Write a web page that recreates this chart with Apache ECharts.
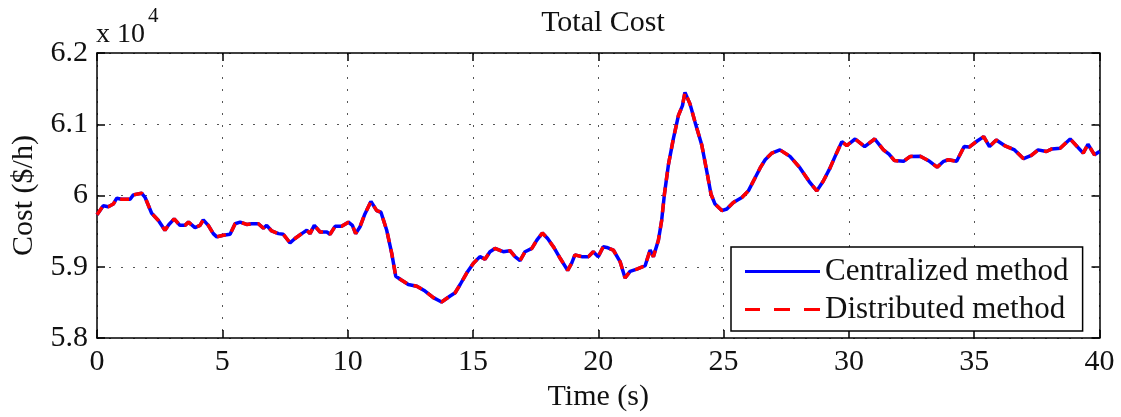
<!DOCTYPE html>
<html>
<head>
<meta charset="utf-8">
<script src="https://cdn.jsdelivr.net/npm/echarts@6/dist/echarts.min.js"></script>
<style>
  html, body { margin: 0; padding: 0; background: #fff; }
  #chart { width: 1121px; height: 417px; }
</style>
</head>
<body>
<div id="chart"></div>
<script>
// Sample times (s)
const timeS = [
  0.00, 0.25, 0.45, 0.65, 0.79, 0.98, 1.32, 1.45, 1.78, 1.92,
  2.18, 2.45, 2.71, 2.87, 3.08, 3.31, 3.51, 3.65, 3.91, 4.11,
  4.24, 4.44, 4.64, 4.78, 5.04, 5.31, 5.51, 5.71, 5.97, 6.17,
  6.44, 6.64, 6.77, 6.97, 7.24, 7.43, 7.70, 7.90, 8.17, 8.37,
  8.50, 8.67, 8.90, 9.17, 9.30, 9.50, 9.76, 10.03, 10.19, 10.32,
  10.49, 10.69, 10.93, 11.16, 11.33, 11.56, 11.76, 11.92, 12.16, 12.42,
  12.76, 13.09, 13.42, 13.75, 14.09, 14.29, 14.49, 14.75, 15.02, 15.28,
  15.48, 15.68, 15.88, 16.21, 16.48, 16.68, 16.88, 17.08, 17.35, 17.55,
  17.77, 17.98, 18.21, 18.48, 18.78, 18.94, 19.07, 19.34, 19.61, 19.80,
  20.00, 20.20, 20.34, 20.60, 20.87, 21.07, 21.27, 21.54, 21.87, 22.07,
  22.20, 22.40, 22.53, 22.64, 22.80, 23.00, 23.20, 23.36, 23.46, 23.66,
  23.86, 24.13, 24.33, 24.50, 24.66, 24.93, 25.13, 25.39, 25.73, 25.99,
  26.26, 26.46, 26.66, 26.93, 27.25, 27.65, 28.05, 28.45, 28.72, 28.98,
  29.25, 29.45, 29.72, 29.92, 30.03, 30.25, 30.63, 31.03, 31.38, 31.60,
  31.82, 32.18, 32.45, 32.85, 33.18, 33.52, 33.78, 33.97, 34.30, 34.60,
  34.80, 35.12, 35.38, 35.61, 35.88, 36.21, 36.61, 36.97, 37.28, 37.55,
  37.88, 38.10, 38.43, 38.83, 39.35, 39.54, 39.80, 40.00
];

// Total cost, centralized solution ($/h)
const centralizedCost = [
  59730, 59857, 59843, 59880, 59962, 59948, 59948, 60009, 60032, 59972,
  59751, 59650, 59512, 59594, 59672, 59581, 59581, 59626, 59548, 59581,
  59658, 59581, 59465, 59419, 59442, 59456, 59603, 59626, 59594, 59603,
  59603, 59540, 59580, 59502, 59465, 59456, 59336, 59396, 59465, 59512,
  59465, 59581, 59488, 59488, 59456, 59567, 59567, 59626, 59581, 59465,
  59557, 59741, 59917, 59788, 59765, 59512, 59188, 58866, 58810, 58751,
  58727, 58658, 58566, 58506, 58589, 58635, 58751, 58912, 59050, 59142,
  59105, 59211, 59257, 59211, 59225, 59142, 59087, 59211, 59257, 59373,
  59474, 59396, 59281, 59119, 58949, 59050, 59166, 59142, 59142, 59211,
  59142, 59281, 59271, 59235, 59073, 58843, 58935, 58967, 59014, 59235,
  59142, 59373, 59650, 60018, 60433, 60802, 61124, 61262, 61448, 61286,
  61033, 60709, 60341, 60018, 59880, 59788, 59811, 59903, 59972, 60065,
  60249, 60387, 60502, 60595, 60640, 60549, 60387, 60180, 60065, 60203,
  60387, 60549, 60756, 60701, 60733, 60793, 60687, 60793, 60640, 60580,
  60490, 60480, 60549, 60550, 60488, 60397, 60480, 60502, 60480, 60687,
  60680, 60765, 60826, 60687, 60779, 60701, 60640, 60516, 60562, 60640,
  60618, 60654, 60664, 60793, 60595, 60719, 60571, 60618
];

// Total cost, distributed solution ($/h) - tracks the centralized one
const distributedCost = [
  59730, 59857, 59843, 59880, 59962, 59948, 59948, 60009, 60032, 59972,
  59751, 59650, 59512, 59594, 59672, 59581, 59581, 59626, 59548, 59581,
  59658, 59581, 59465, 59419, 59442, 59456, 59603, 59626, 59594, 59603,
  59603, 59540, 59580, 59502, 59465, 59456, 59336, 59396, 59465, 59512,
  59465, 59581, 59488, 59488, 59456, 59567, 59567, 59626, 59581, 59465,
  59557, 59741, 59917, 59788, 59765, 59512, 59188, 58866, 58810, 58751,
  58727, 58658, 58566, 58506, 58589, 58635, 58751, 58912, 59050, 59142,
  59105, 59211, 59257, 59211, 59225, 59142, 59087, 59211, 59257, 59373,
  59474, 59396, 59281, 59119, 58949, 59050, 59166, 59142, 59142, 59211,
  59142, 59281, 59271, 59235, 59073, 58843, 58935, 58967, 59014, 59235,
  59142, 59373, 59650, 60018, 60433, 60802, 61124, 61262, 61448, 61286,
  61033, 60709, 60341, 60018, 59880, 59788, 59811, 59903, 59972, 60065,
  60249, 60387, 60502, 60595, 60640, 60549, 60387, 60180, 60065, 60203,
  60387, 60549, 60756, 60701, 60733, 60793, 60687, 60793, 60640, 60580,
  60490, 60480, 60549, 60550, 60488, 60397, 60480, 60502, 60480, 60687,
  60680, 60765, 60826, 60687, 60779, 60701, 60640, 60516, 60562, 60640,
  60618, 60654, 60664, 60793, 60595, 60719, 60571, 60618
];

const seriesNames = ['Centralized method', 'Distributed method'];
const xTicks = { min: 0, max: 40, step: 5 };
const yTicks = { min: 58000, max: 62000, step: 1000 };

const FONT = "'Liberation Serif', 'Times New Roman', serif";
const pairs = (ys) => timeS.map((t, i) => [t, ys[i]]);

const gridLine = { show: true, lineStyle: { color: '#555', width: 1, type: [2, 10] } };
const frameLine = { show: true, onZero: false, lineStyle: { color: '#000', width: 1.5 } };
const inTick = { show: true, inside: true, length: 8, lineStyle: { color: '#000', width: 1.5 } };

// legend glyphs: a solid bar and a three-dash bar
const solidIcon = 'path://M0,0h75v3h-75z';
const dashIcon = 'path://M0,0h15v3h-15z M29,0h16v3h-16z M59,0h16v3h-16z';

const chart = echarts.init(document.getElementById('chart'), null, { renderer: 'canvas' });
chart.setOption({
  animation: false,
  backgroundColor: '#fff',
  title: {
    text: 'Total Cost',
    left: 598, textAlign: 'center', top: 3,
    textStyle: { fontFamily: FONT, fontSize: 30, fontWeight: 'normal', color: '#111' }
  },
  grid: { left: 97, right: 21.5, top: 53, bottom: 74.5 },
  graphic: [
    { type: 'text', left: 96, top: 21, style: { text: 'x 10', font: '28px ' + FONT, fill: '#111' } },
    { type: 'text', left: 148, top: 6, style: { text: '4', font: '21px ' + FONT, fill: '#111' } }
  ],
  legend: {
    orient: 'vertical',
    left: 731, top: 247,
    backgroundColor: '#fff',
    borderColor: '#000', borderWidth: 1.5,
    padding: [9, 14, 6, 14],
    itemWidth: 75, itemHeight: 3, itemGap: 7,
    textStyle: { fontFamily: FONT, fontSize: 31, color: '#111' },
    data: [
      { name: seriesNames[0], icon: solidIcon },
      { name: seriesNames[1], icon: dashIcon }
    ]
  },
  xAxis: [
    {
      type: 'value', min: xTicks.min, max: xTicks.max, interval: xTicks.step,
      name: 'Time (s)', nameLocation: 'middle', nameGap: 44,
      nameTextStyle: { fontFamily: FONT, fontSize: 30, color: '#111' },
      axisLine: frameLine, axisTick: inTick,
      axisLabel: { fontFamily: FONT, fontSize: 30, color: '#111', margin: 9 },
      splitLine: gridLine
    },
    {
      type: 'value', position: 'top', min: xTicks.min, max: xTicks.max, interval: xTicks.step,
      axisLine: frameLine, axisTick: inTick, axisLabel: { show: false }, splitLine: { show: false }
    }
  ],
  yAxis: [
    {
      type: 'value', min: yTicks.min, max: yTicks.max, interval: yTicks.step,
      name: 'Cost ($/h)', nameLocation: 'middle', nameGap: 58,
      nameTextStyle: { fontFamily: FONT, fontSize: 30, color: '#111' },
      axisLine: frameLine, axisTick: inTick,
      axisLabel: {
        fontFamily: FONT, fontSize: 30, color: '#111', margin: 9,
        formatter: (v) => String(parseFloat((v / 10000).toFixed(2)))
      },
      splitLine: gridLine
    },
    {
      type: 'value', position: 'right', min: yTicks.min, max: yTicks.max, interval: yTicks.step,
      axisLine: frameLine, axisTick: inTick, axisLabel: { show: false }, splitLine: { show: false }
    }
  ],
  series: [
    {
      name: seriesNames[0], type: 'line', data: pairs(centralizedCost),
      symbol: 'none', color: '#0000ff',
      lineStyle: { color: '#0000ff', width: 3.5 }, z: 3
    },
    {
      name: seriesNames[1], type: 'line', data: pairs(distributedCost),
      symbol: 'none', color: '#ff0000',
      lineStyle: { color: '#ff0000', width: 3.5, type: [9, 7] }, z: 4
    }
  ]
});
</script>
</body>
</html>
